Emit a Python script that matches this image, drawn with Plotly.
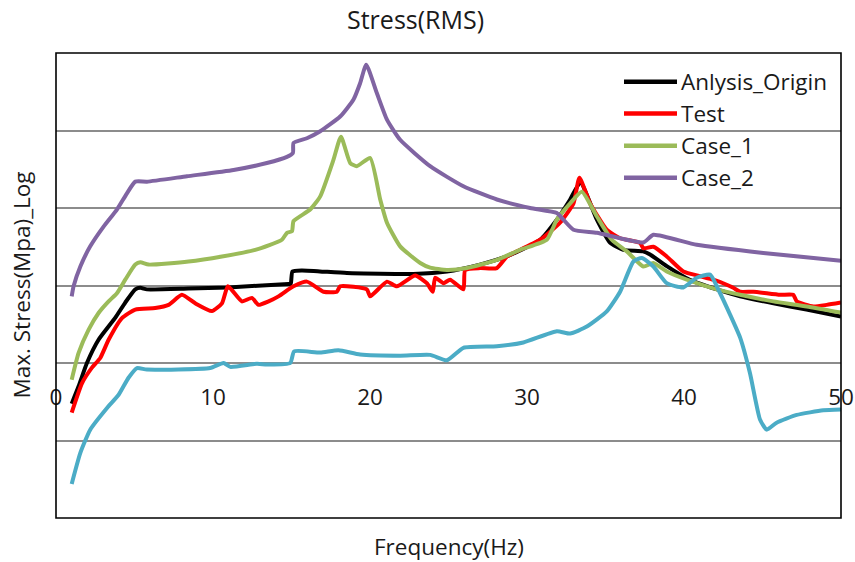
import numpy as np
import plotly.graph_objects as go

# ---------------- data (frequency in Hz, stress exponent = log10(MPa)) ----------------
origin_f = [1.0, 1.44, 1.97, 2.71, 3.78, 4.41, 5.05, 5.37, 5.79, 8.42, 10.97, 14.81, 14.95, 15.06, 15.66,
            18.53, 22.75, 24.9, 27.0, 28.7, 30.84, 31.9, 32.75, 33.4, 34.45, 35.3, 36.14, 37.4, 37.84,
            38.9, 40.4, 42.1, 43.57, 45.7, 47.8, 50.0]
origin_log = [-0.525, -0.30, 0.0, 0.30, 0.585, 0.78, 0.95, 0.97, 0.95, 0.96, 0.975, 1.02, 1.02, 1.18, 1.195,
              1.16, 1.15, 1.18, 1.27, 1.375, 1.59, 1.85, 2.11, 2.33, 1.85, 1.55, 1.46, 1.44, 1.40,
              1.25, 1.07, 0.95, 0.86, 0.77, 0.69, 0.60]

test_f = [1.0, 1.66, 2.29, 2.82, 3.35, 4.2, 5.05, 6.32, 7.17, 8.02, 8.87, 9.93, 10.57, 10.95, 11.84,
          12.48, 12.9, 13.54, 14.17, 14.81, 15.13, 15.98, 17.04, 17.89, 18.1, 19.8, 20.01, 21.08, 21.71,
          22.88, 23.62, 24.0, 24.15, 24.68, 25.1, 25.95, 26.06, 27.02, 28.08, 28.72, 29.14, 30.84, 32.1,
          32.96, 33.34, 34.02, 35.08, 35.93, 37.2, 37.41, 38.05, 38.9, 39.96, 41.03, 41.87, 42.72, 43.14,
          43.57, 44.42, 46.12, 46.96, 47.18, 48.24, 49.09, 50.0]
test_log = [-0.64, -0.26, -0.06, 0.065, 0.30, 0.58, 0.69, 0.71, 0.75, 0.88, 0.77, 0.67, 0.77, 0.99, 0.795,
            0.84, 0.75, 0.795, 0.86, 0.95, 0.99, 1.05, 0.92, 0.92, 0.99, 0.95, 0.86, 1.05, 0.99,
            1.13, 1.03, 0.92, 1.10, 1.03, 1.075, 0.95, 1.20, 1.225, 1.225, 1.375, 1.42, 1.59, 1.81,
            2.06, 2.39, 2.06, 1.72, 1.61, 1.55, 1.48, 1.50, 1.375, 1.18, 1.12, 1.075, 1.01, 0.97,
            0.92, 0.92, 0.88, 0.88, 0.795, 0.73, 0.75, 0.78]

case1_f = [1.0, 1.44, 2.08, 2.71, 3.35, 3.88, 4.41, 5.05, 5.37, 5.90, 8.44, 10.57, 12.69, 14.39, 14.71,
           15.03, 15.13, 16.19, 16.83, 17.67, 18.15, 18.74, 19.16, 20.01, 20.65, 21.08, 21.92, 23.2, 23.83,
           24.9, 26.17, 28.08, 29.56, 31.26, 31.9, 32.75, 33.49, 34.45, 35.4, 36.36, 37.41, 38.05, 38.9,
           40.18, 42.09, 43.57, 45.69, 47.82, 50.0]
case1_log = [-0.215, 0.13, 0.43, 0.645, 0.795, 0.90, 1.075, 1.27, 1.30, 1.27, 1.31, 1.375, 1.46, 1.59, 1.68,
             1.70, 1.83, 1.98, 2.15, 2.62, 2.92, 2.58, 2.54, 2.645, 2.11, 1.81, 1.505, 1.29, 1.23,
             1.20, 1.225, 1.33, 1.46, 1.59, 1.85, 2.06, 2.21, 1.89, 1.59, 1.44, 1.245, 1.29, 1.18,
             1.075, 0.95, 0.88, 0.795, 0.73, 0.65]

case2_f = [1.0, 1.12, 1.55, 2.18, 3.03, 3.88, 4.52, 5.05, 5.79, 8.34, 11.31, 13.43, 14.71, 15.09, 15.13,
           15.98, 16.83, 18.1, 18.95, 19.37, 19.76, 20.44, 21.08, 21.92, 23.83, 25.95, 28.08, 30.2, 31.9,
           32.32, 32.96, 34.45, 37.41, 38.05, 40.81, 45.05, 50.0]
case2_log = [0.86, 0.99, 1.245, 1.505, 1.76, 1.98, 2.19, 2.34, 2.34, 2.41, 2.49, 2.58, 2.66, 2.71, 2.84,
             2.90, 2.99, 3.18, 3.40, 3.61, 3.85, 3.48, 3.14, 2.88, 2.54, 2.28, 2.11, 2.0, 1.935,
             1.85, 1.72, 1.68, 1.555, 1.655, 1.525, 1.42, 1.32]

case3_f = [1.0, 1.55, 2.18, 3.25, 3.99, 4.62, 5.16, 5.79, 9.82, 10.67, 11.1, 12.8, 13.43, 14.92, 15.17,
           16.83, 17.99, 19.37, 21.92, 23.83, 24.9, 25.95, 28.08, 29.77, 31.9, 32.75, 33.81, 35.08, 35.93,
           36.78, 37.31, 38.05, 38.9, 39.96, 40.81, 41.66, 42.3, 43.57, 44.2, 44.84, 45.27, 45.9, 47.18,
           48.87, 50.0]
case3_log = [-1.56, -1.16, -0.86, -0.58, -0.41, -0.19, -0.065, -0.085, -0.065, 0.0, -0.05, -0.01, -0.02, 0.0, 0.15,
             0.135, 0.165, 0.11, 0.095, 0.105, 0.035, 0.195, 0.215, 0.265, 0.41, 0.38, 0.47, 0.665, 0.92,
             1.31, 1.355, 1.245, 1.03, 0.975, 1.10, 1.14, 0.90, 0.33, -0.13, -0.73, -0.86, -0.77, -0.67,
             -0.61, -0.60]

series = [
    ("Anlysis_Origin", origin_f, origin_log, "#000000", True),
    ("Test", test_f, test_log, "#FF0000", True),
    ("Case_1", case1_f, case1_log, "#9BBB59", True),
    ("Case_2", case2_f, case2_log, "#8064A2", True),
    ("Case_3", case3_f, case3_log, "#4BACC6", False),
]

x_ticks = [0, 10, 20, 30, 40, 50]

FONT = "Open Sans, Noto Sans, sans-serif"
TXT = "#1a1a1a"
FS = 22.5

fig = go.Figure()
for name, f, lg, col, _ in series:
    fig.add_trace(go.Scatter(
        x=f, y=10 ** np.array(lg), mode="lines", name=name,
        line=dict(color=col, width=4, shape="spline", smoothing=0.5),
        showlegend=False, hoverinfo="skip"))

# pixel geometry
W, H = 855, 562
L, R, T, B = 56, 14, 53, 44
pw, ph = W - L - R, H - T - B

def px_x(x):
    return (x - L) / pw

def px_y(y):
    return (H - B - y) / ph

shapes = [dict(type="rect", xref="paper", yref="paper", x0=0, x1=1, y0=0, y1=1,
               line=dict(color="#000000", width=1.6), layer="above")]
annotations = []
legend_rows = [81.7, 113.5, 145.7, 177.7]
row = 0
for name, f, lg, col, show in series:
    if not show:
        continue
    yy = px_y(legend_rows[row])
    shapes.append(dict(type="line", xref="paper", yref="paper", x0=px_x(624), x1=px_x(677),
                       y0=yy, y1=yy, line=dict(color=col, width=4.5)))
    annotations.append(dict(xref="paper", yref="paper", x=px_x(679), y=yy, text=name,
                            showarrow=False, xanchor="left", yanchor="middle",
                            font=dict(family=FONT, size=FS, color=TXT)))
    row += 1

annotations += [
    dict(xref="paper", yref="paper", x=px_x(415), y=px_y(19), text="Stress(RMS)", showarrow=False,
         xanchor="center", yanchor="middle", font=dict(family=FONT, size=25, color=TXT)),
    dict(xref="paper", yref="paper", x=0.5, y=px_y(546), text="Frequency(Hz)", showarrow=False,
         xanchor="center", yanchor="middle", font=dict(family=FONT, size=FS, color=TXT)),
    dict(xref="paper", yref="paper", x=px_x(21), y=0.5, text="Max. Stress(Mpa)_Log", showarrow=False,
         textangle=-90, xanchor="center", yanchor="middle", font=dict(family=FONT, size=FS, color=TXT)),
]

fig.update_layout(
    width=W, height=H,
    margin=dict(l=L, r=R, t=T, b=B, autoexpand=False),
    paper_bgcolor="white", plot_bgcolor="white",
    showlegend=False,
    xaxis=dict(range=[0, 50], tickvals=x_ticks, ticktext=[str(v) for v in x_ticks],
               showgrid=False, zeroline=False, showline=False, ticks="",
               anchor="free", position=px_y(381), automargin=False,
               tickfont=dict(family=FONT, size=FS, color=TXT)),
    yaxis=dict(type="log", range=[-2, 4], dtick=1, showticklabels=False, ticks="", automargin=False,
               showgrid=True, gridcolor="#8c8c8c", gridwidth=1.5, zeroline=False, showline=False),
    shapes=shapes, annotations=annotations,
)

fig.write_html("out.html")
